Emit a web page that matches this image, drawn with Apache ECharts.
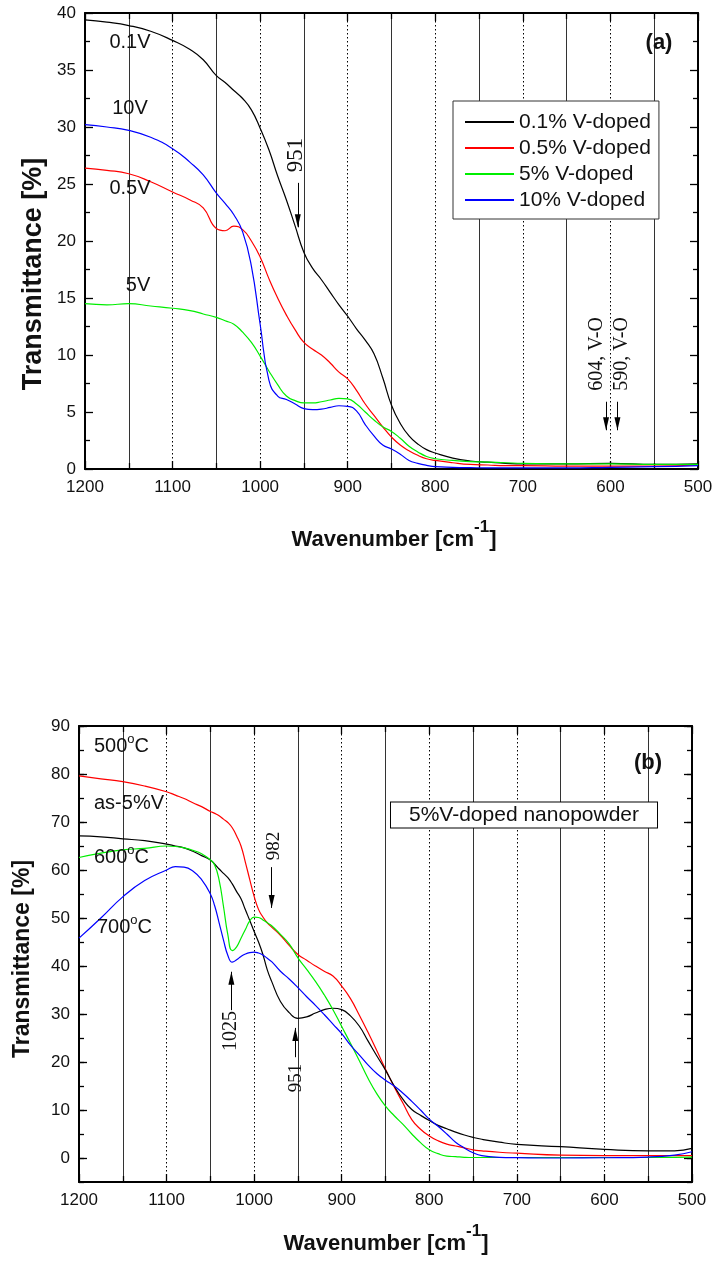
<!DOCTYPE html>
<html><head><meta charset="utf-8">
<script src="https://cdn.jsdelivr.net/npm/echarts@6/dist/echarts.min.js"></script>
<style>html,body{margin:0;padding:0;background:#fff}#c{width:714px;height:1262px}</style>
</head><body><div id="c"></div>
<script>
// ---------- Data: panel (a) ----------
const aWn = [1200,1175,1150,1125,1100,1080,1065,1050,1040,1030,1020,1010,1000,990,980,970,960,950,940,930,920,910,900,890,880,870,860,850,840,830,820,810,800,780,760,740,720,700,650,600,550,500];
const aBlack = [39.4,39.2,38.9,38.4,37.6,36.8,35.9,34.5,33.9,33.2,32.5,31.5,29.9,28.0,25.7,23.6,21.3,19.0,17.6,16.6,15.5,14.4,13.4,12.3,11.3,10.1,8.0,5.6,4.0,2.9,2.2,1.7,1.4,0.95,0.7,0.6,0.5,0.45,0.45,0.5,0.4,0.45];
const aRed   = [26.4,26.2,25.9,25.2,24.3,23.6,22.9,21.1,20.9,21.3,21.0,20.0,18.6,16.7,15.0,13.5,12.2,11.1,10.5,10.0,9.3,8.5,7.9,6.9,5.7,4.7,3.7,2.8,2.1,1.6,1.2,0.9,0.75,0.55,0.4,0.35,0.3,0.3,0.25,0.25,0.25,0.35];
const aGreen = [14.5,14.4,14.5,14.3,14.1,13.9,13.6,13.3,13.0,12.7,12.0,11.1,9.9,8.6,7.4,6.4,6.0,5.8,5.8,5.9,6.05,6.2,6.15,5.7,5.0,4.3,3.7,3.3,2.7,2.0,1.5,1.1,0.9,0.75,0.65,0.6,0.55,0.5,0.45,0.45,0.4,0.4];
const aBlue  = [30.2,30.0,29.7,29.1,28.1,26.9,25.8,24.2,23.3,22.3,20.8,17.8,12.7,7.8,6.4,6.1,5.7,5.3,5.2,5.25,5.4,5.55,5.5,5.1,3.9,2.9,2.1,1.75,1.3,0.75,0.5,0.32,0.2,0.15,0.12,0.1,0.1,0.1,0.1,0.15,0.2,0.3];
const aNames = ['0.1% V-doped','0.5% V-doped','5% V-doped','10% V-doped'];
const aArrows = [{w:957,from:25.1,to:21.2},{w:605,from:5.9,to:3.4},{w:592,from:5.9,to:3.4}];

// ---------- Data: panel (b) ----------
const bWn = [1200,1175,1150,1125,1100,1090,1080,1070,1060,1050,1045,1040,1035,1030,1025,1020,1015,1010,1005,1000,995,990,985,980,970,960,950,940,930,920,910,900,890,880,870,860,850,840,830,820,810,800,790,780,770,760,750,740,720,700,650,600,550,520,500];
const bRed   = [79.6,79.0,78.4,77.5,76.3,75.6,74.9,74.0,73.2,72.2,71.8,71.3,70.6,69.9,68.8,67.1,65.0,61.6,58.0,54.5,51.8,50.2,49.0,48.1,46.4,44.3,42.4,41.2,40.0,38.9,37.9,35.8,33.2,29.8,26.2,22.4,18.5,14.8,11.4,8.0,6.0,4.6,3.6,2.9,2.5,2.1,1.7,1.5,1.2,1.0,0.6,0.5,0.5,0.5,0.5];
const bBlack = [67.1,66.9,66.5,66.1,65.4,65.0,64.6,63.9,63.0,62.1,61.2,60.2,59.3,58.4,57.1,55.5,54.0,51.7,49.5,47.2,45.0,42.4,39.2,36.8,32.6,30.3,29.1,29.4,30.2,30.9,31.2,30.9,29.6,27.5,24.4,21.3,18.3,15.0,12.2,10.1,8.9,7.8,6.8,6.1,5.4,4.8,4.3,3.9,3.3,2.85,2.35,1.8,1.5,1.5,2.0];
const bGreen = [62.6,63.5,64.2,64.5,65.0,64.9,64.6,64.1,63.4,62.1,61.0,57.9,52.4,46.5,43.2,44.0,45.8,47.6,49.4,50.2,50.1,49.6,49.0,48.4,46.6,44.6,41.7,39.3,36.8,34.0,30.9,27.4,23.9,20.3,16.6,13.4,10.8,8.8,7.0,5.0,3.2,1.7,0.9,0.4,0.28,0.15,0.1,0.1,0.1,0.1,0.1,0.1,0.1,0.15,0.2];
const bBlue  = [45.8,50.0,54.4,57.8,60.0,60.7,60.6,59.8,58.0,55.0,52.5,49.0,45.4,42.2,40.8,41.3,42.0,42.5,42.8,42.9,42.7,42.3,41.6,40.9,38.9,37.3,35.5,33.6,31.8,29.9,27.9,25.9,23.5,21.5,19.4,17.6,16.2,15.0,13.5,11.8,10.0,8.1,6.6,5.0,3.3,2.1,1.1,0.5,0.15,0.07,0.0,0.05,0.2,0.6,1.3];
const bNames = ['500°C','as-5%V','600°C','700°C'];
const bArrows = [{w:980,from:60.6,to:52.1},{w:1026,from:30.8,to:38.8},{w:953,from:21.0,to:27.1}];

// ---------- Chart ----------
const SANS = "'Liberation Sans', Arial, Helvetica, sans-serif";
const SERIF = "'Liberation Serif', 'Times New Roman', serif";
const pairs = (xs, ys) => xs.map((x, i) => [x, ys[i]]);

function xAxes(gi) {
  const common = {
    type: 'value', gridIndex: gi, min: 500, max: 1200, interval: 100, inverse: true,
    axisLine: {show: true, onZero: false, lineStyle: {color: '#000', width: 2}},
    axisTick: {show: true, inside: true, length: 8, lineStyle: {color: '#000', width: 1.3}},
    minorTick: {show: true, splitNumber: 2, length: 6, lineStyle: {color: '#000', width: 1.3}}
  };
  return [
    Object.assign({}, common, {
      position: 'bottom',
      axisLabel: {show: true, fontFamily: SANS, fontSize: 17, color: '#111', margin: 10, showMinLabel: true, showMaxLabel: true,
        formatter: v => String(v)},
      splitLine: {show: true, lineStyle: {color: '#000', width: 1, type: [1.5, 2.5]}},
      minorSplitLine: {show: true, lineStyle: {color: '#333', width: 1}}
    }),
    Object.assign({}, common, {
      position: 'top', axisLabel: {show: false}, splitLine: {show: false}, minorSplitLine: {show: false}
    })
  ];
}

function yAxisDef(gi, pos, min, max, showLabel, tick, minor, fmt) {
  return {
    type: 'value', gridIndex: gi, position: pos, min: min, max: max, interval: 5,
    axisLine: {show: true, onZero: false, lineStyle: {color: '#000', width: 2}},
    axisTick: {show: true, inside: true, length: tick, lineStyle: {color: '#000', width: 1.3}},
    minorTick: {show: minor, splitNumber: 2, length: 5, lineStyle: {color: '#000', width: 1.3}},
    axisLabel: {show: showLabel, fontFamily: SANS, fontSize: 17, color: '#111', margin: 9,
      formatter: fmt || (v => String(v)), showMinLabel: true, showMaxLabel: true},
    splitLine: {show: false}, minorSplitLine: {show: false}
  };
}
const tensFmt = v => (v % 10 === 0 ? String(v) : '');
const majorB = [0,10,20,30,40,50,60,70,80,90];
function overlayB(pos) {
  return {
    type: 'value', gridIndex: 1, position: pos, min: -5, max: 90, interval: 5,
    axisLine: {show: false}, axisLabel: {show: false}, splitLine: {show: false},
    axisTick: {show: true, inside: true, length: 8, customValues: majorB, lineStyle: {color: '#000', width: 1.3}}
  };
}

const headPath = 'path://M5,0L10,14L0,14Z';
function arrowMarks(arr) {
  return {
    markLine: {
      silent: true, symbol: ['none', 'none'], animation: false, label: {show: false},
      lineStyle: {color: '#000', width: 1, type: 'solid'}, emphasis: {disabled: true},
      data: arr.map(a => [{coord: [a.w, a.from]}, {coord: [a.w, a.to]}])
    },
    markPoint: {
      silent: true, symbol: headPath, symbolSize: [6, 13], animation: false, label: {show: false},
      itemStyle: {color: '#000'},
      data: arr.map(a => ({coord: [a.w, a.to], symbolRotate: a.to < a.from ? 180 : 0,
        symbolOffset: [0, a.to < a.from ? -6.5 : 6.5]}))
    }
  };
}

const colors = ['#000000', '#ff0000', '#00ee00', '#0000ff'];
function mkSeries(name, xs, ys, color, gi, extra) {
  return Object.assign({
    name: name, type: 'line', xAxisIndex: gi * 2, yAxisIndex: gi * 2,
    data: pairs(xs, ys), smooth: 0.5, symbol: 'none', showSymbol: false,
    lineStyle: {color: color, width: 1.2}, itemStyle: {color: color},
    emphasis: {disabled: true}, silent: true
  }, extra || {});
}

function txt(x, y, text, o) {
  o = o || {};
  return {
    type: 'text', x: x, y: y, rotation: o.rot || 0, silent: true, z: 100,
    style: Object.assign({
      text: text, fontFamily: o.family || SANS, fontSize: o.size || 20, fontWeight: o.weight || 'normal',
      fill: '#111', align: o.align || 'center', verticalAlign: 'middle', rich: o.rich
    }, o.style || {})
  };
}
const supRich = (size, weight, pad) => ({s: {fontFamily: SANS, fontSize: size, fontWeight: weight, fill: '#111', padding: [0, 0, pad, 0]}});
const R90 = Math.PI / 2;

const option = {
  animation: false,
  backgroundColor: '#fff',
  grid: [
    {left: 85, top: 13, width: 613, height: 456, containLabel: false, outerBoundsMode: 'none'},
    {left: 79, top: 726, width: 613, height: 456, containLabel: false, outerBoundsMode: 'none'}
  ],
  xAxis: [].concat(xAxes(0), xAxes(1)),
  yAxis: [
    yAxisDef(0, 'left', 0, 40, true, 8, true),
    yAxisDef(0, 'right', 0, 40, false, 8, true),
    yAxisDef(1, 'left', -5, 90, true, 5, false, tensFmt),
    yAxisDef(1, 'right', -5, 90, false, 5, false),
    overlayB('left'),
    overlayB('right')
  ],
  legend: {
    show: true, left: 453, top: 101, orient: 'vertical', itemWidth: 49, itemHeight: 2, itemGap: 4,
    icon: 'rect',
    padding: [10, 8, 8, 12], borderColor: '#333', borderWidth: 1, backgroundColor: '#fff',
    textStyle: {fontFamily: SANS, fontSize: 21, color: '#111', lineHeight: 22},
    data: aNames, selectedMode: false
  },
  series: [
    mkSeries(aNames[0], aWn, aBlack, colors[0], 0, arrowMarks(aArrows)),
    mkSeries(aNames[1], aWn, aRed, colors[1], 0),
    mkSeries(aNames[2], aWn, aGreen, colors[2], 0),
    mkSeries(aNames[3], aWn, aBlue, colors[3], 0),
    mkSeries(bNames[0], bWn, bRed, colors[1], 1, arrowMarks(bArrows)),
    mkSeries(bNames[1], bWn, bBlack, colors[0], 1),
    mkSeries(bNames[2], bWn, bGreen, colors[2], 1),
    mkSeries(bNames[3], bWn, bBlue, colors[3], 1)
  ],
  graphic: [
    // axis titles
    txt(34, 274, 'Transmittance [%]', {rot: R90, size: 27, weight: 'bold'}),
    txt(23, 959, 'Transmittance [%]', {rot: R90, size: 23, weight: 'bold'}),
    txt(394, 540, 'Wavenumber [cm{s|-1}]', {size: 22, weight: 'bold', rich: supRich(17, 'bold', 25)}),
    txt(386, 1244, 'Wavenumber [cm{s|-1}]', {size: 22, weight: 'bold', rich: supRich(17, 'bold', 25)}),
    // panel tags
    txt(659, 43, '(a)', {size: 22, weight: 'bold'}),
    txt(648, 763, '(b)', {size: 22, weight: 'bold'}),
    // panel (a) curve labels
    txt(130, 42, '0.1V'),
    txt(130, 108, '10V'),
    txt(130, 188, '0.5V'),
    txt(138, 285, '5V'),
    // panel (a) peak annotations
    txt(296, 155, '951', {rot: R90, size: 23, family: SERIF}),
    txt(597, 354, '604, V-O', {rot: R90, size: 20, family: SERIF}),
    txt(622, 354, '590, V-O', {rot: R90, size: 20, family: SERIF}),
    // panel (b) curve labels
    txt(94, 746, '500{s|o}C', {align: 'left', rich: supRich(13, 'normal', 14)}),
    txt(94, 803, 'as-5%V', {align: 'left'}),
    txt(94, 857, '600{s|o}C', {align: 'left', rich: supRich(13, 'normal', 14)}),
    txt(97, 927, '700{s|o}C', {align: 'left', rich: supRich(13, 'normal', 14)}),
    // panel (b) peak annotations
    txt(274, 846, '982', {rot: R90, size: 19, family: SERIF}),
    txt(231, 1031, '1025', {rot: R90, size: 20, family: SERIF}),
    txt(296, 1078, '951', {rot: R90, size: 19, family: SERIF}),
    // panel (b) sample box
    txt(524, 815, '5%V-doped nanopowder', {size: 21, style: {padding: [3, 18, 1, 18], borderColor: '#000', borderWidth: 1, backgroundColor: '#fff'}})
  ]
};

const chart = echarts.init(document.getElementById('c'), null, {renderer: 'canvas'});
chart.setOption(option);
</script>
</body></html>
